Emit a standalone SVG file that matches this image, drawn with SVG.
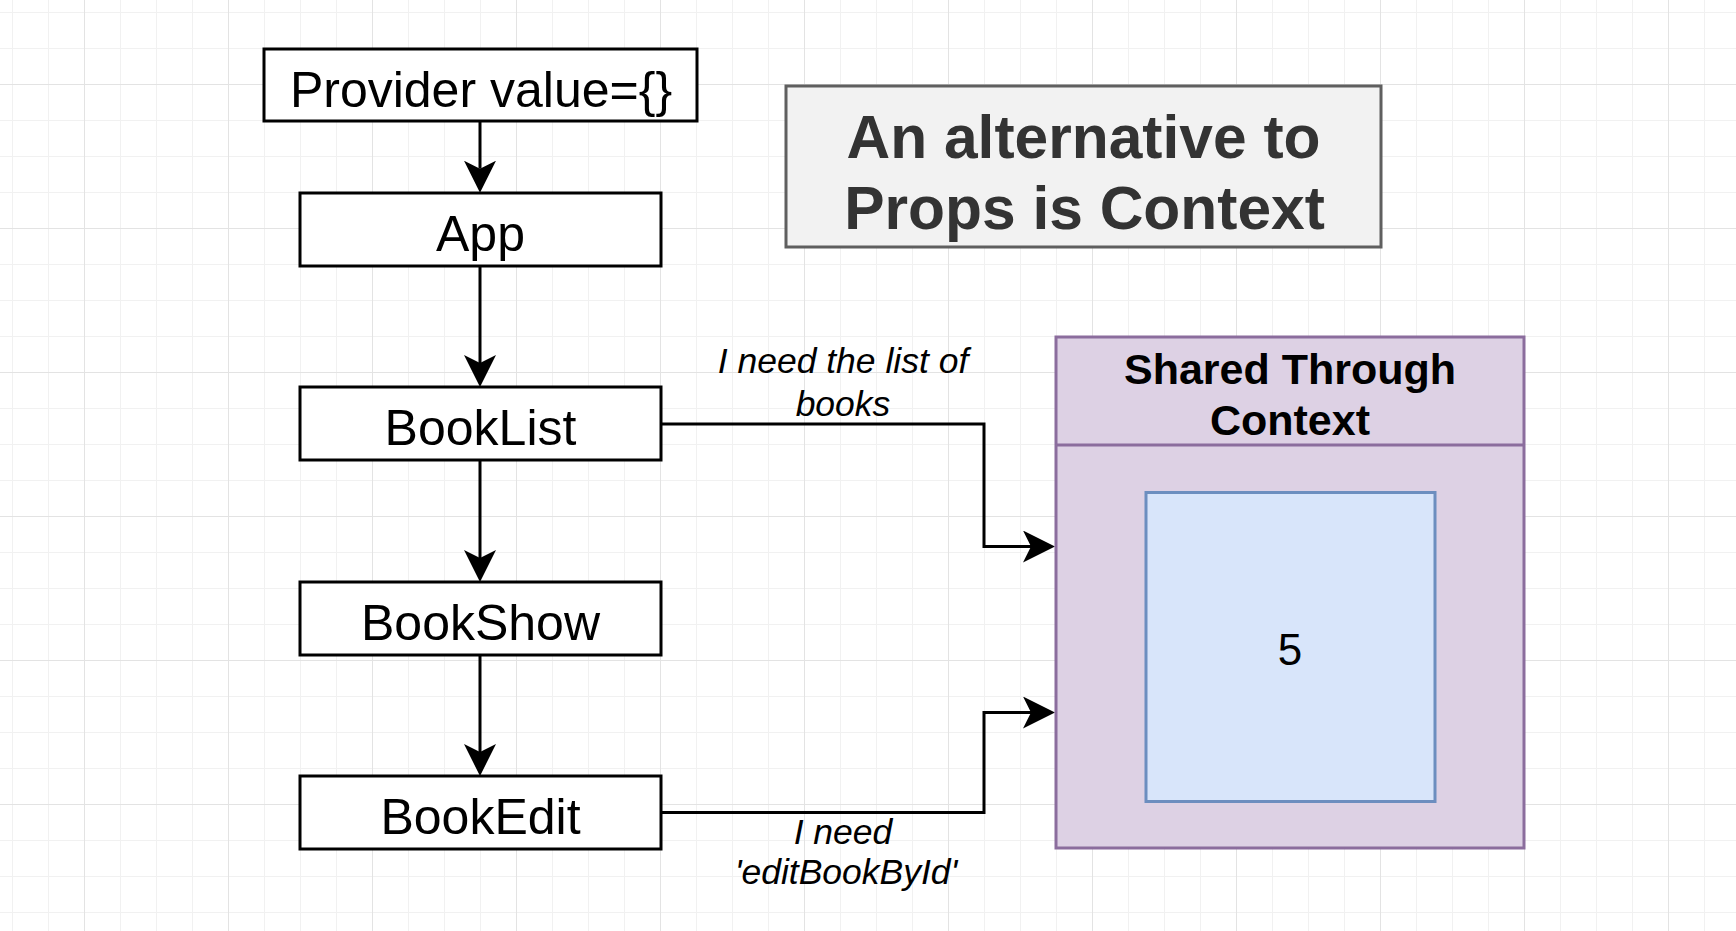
<svg xmlns="http://www.w3.org/2000/svg" width="1736" height="931" viewBox="0 0 1736 931">
  <defs>
    <pattern id="grid" patternUnits="userSpaceOnUse" x="0" y="0" width="144" height="144">
      <path d="M12.5,0 V144 M48.5,0 V144 M120.5,0 V144 M0,12.5 H144 M0,48.5 H144 M0,120.5 H144" stroke="#f1f1f1" stroke-width="1" fill="none"/>
      <path d="M84.5,0 V144 M0,84.5 H144" stroke="#e3e3e3" stroke-width="1" fill="none"/>
    </pattern>
    <marker id="arrow" markerUnits="userSpaceOnUse" viewBox="0 0 32 32" markerWidth="32" markerHeight="32" refX="8" refY="16" orient="auto">
      <path d="M0,0 L32,16 L0,32 L8,16 Z" fill="#000"/>
    </marker>
    <style>
      .box { fill: #ffffff; stroke: #000000; stroke-width: 3; }
      .lbl { font-family: "Liberation Sans", Arial, sans-serif; font-size: 50px; fill: #000; text-anchor: middle; }
      .edge { fill: none; stroke: #000; stroke-width: 3; marker-end: url(#arrow); }
      .elbl { font-family: "Liberation Sans", Arial, sans-serif; font-size: 35.5px; font-style: italic; fill: #000; text-anchor: middle; }
      .title { font-family: "Liberation Sans", Arial, sans-serif; font-size: 60.5px; font-weight: bold; fill: #333333; text-anchor: middle; }
      .hdr { font-family: "Liberation Sans", Arial, sans-serif; font-size: 43px; font-weight: bold; fill: #000; text-anchor: middle; }
    </style>
  </defs>

  <rect x="0" y="0" width="1736" height="931" fill="#ffffff"/>
  <rect x="0" y="0" width="1736" height="931" fill="url(#grid)"/>

  <g id="connectors">
    <path class="edge" d="M480,121 V168.7"/>
    <path class="edge" d="M480,266 V363"/>
    <path class="edge" d="M480,460 V558"/>
    <path class="edge" d="M480,655 V752"/>
    <path class="edge" d="M660,424 H984 V546.5 H1031"/>
    <path class="edge" d="M660,812.5 H984 V712.5 H1031"/>
    <text class="elbl" x="843" y="372.7">I need the list of</text>
    <text class="elbl" x="843" y="416">books</text>
    <text class="elbl" x="843" y="844.3">I need</text>
    <text class="elbl" x="846" y="884">'editBookById'</text>
  </g>

  <g id="provider">
    <rect class="box" x="264" y="49" width="433" height="72"/>
    <text class="lbl" x="481" y="107">Provider value={}</text>
  </g>
  <g id="app">
    <rect class="box" x="300" y="193" width="361" height="73"/>
    <text class="lbl" x="480.5" y="251">App</text>
  </g>
  <g id="booklist">
    <rect class="box" x="300" y="387" width="361" height="73"/>
    <text class="lbl" x="480.5" y="445">BookList</text>
  </g>
  <g id="bookshow">
    <rect class="box" x="300" y="582" width="361" height="73"/>
    <text class="lbl" x="480.5" y="639.5">BookShow</text>
  </g>
  <g id="bookedit">
    <rect class="box" x="300" y="776" width="361" height="73"/>
    <text class="lbl" x="480.5" y="833.5">BookEdit</text>
  </g>

  <g id="title">
    <rect x="786" y="86" width="595" height="161" fill="#f2f2f2" stroke="#5f5f5f" stroke-width="3"/>
    <text class="title" x="1083.5" y="157.7">An alternative to</text>
    <text class="title" x="1084.5" y="229.3">Props is Context</text>
  </g>

  <g id="context">
    <rect x="1056" y="337" width="468" height="511" fill="#ddd1e4" stroke="#8b6d9d" stroke-width="3"/>
    <line x1="1056" y1="445" x2="1524" y2="445" stroke="#8b6d9d" stroke-width="3"/>
    <text class="hdr" x="1290" y="384">Shared Through</text>
    <text class="hdr" x="1290" y="435">Context</text>
  </g>

  <g id="value">
    <rect x="1146" y="492.5" width="289" height="309" fill="#d8e5fa" stroke="#6c8ebf" stroke-width="3"/>
    <text x="1290" y="665" font-family="Liberation Sans, Arial, sans-serif" font-size="44" text-anchor="middle" fill="#000">5</text>
  </g>
</svg>
